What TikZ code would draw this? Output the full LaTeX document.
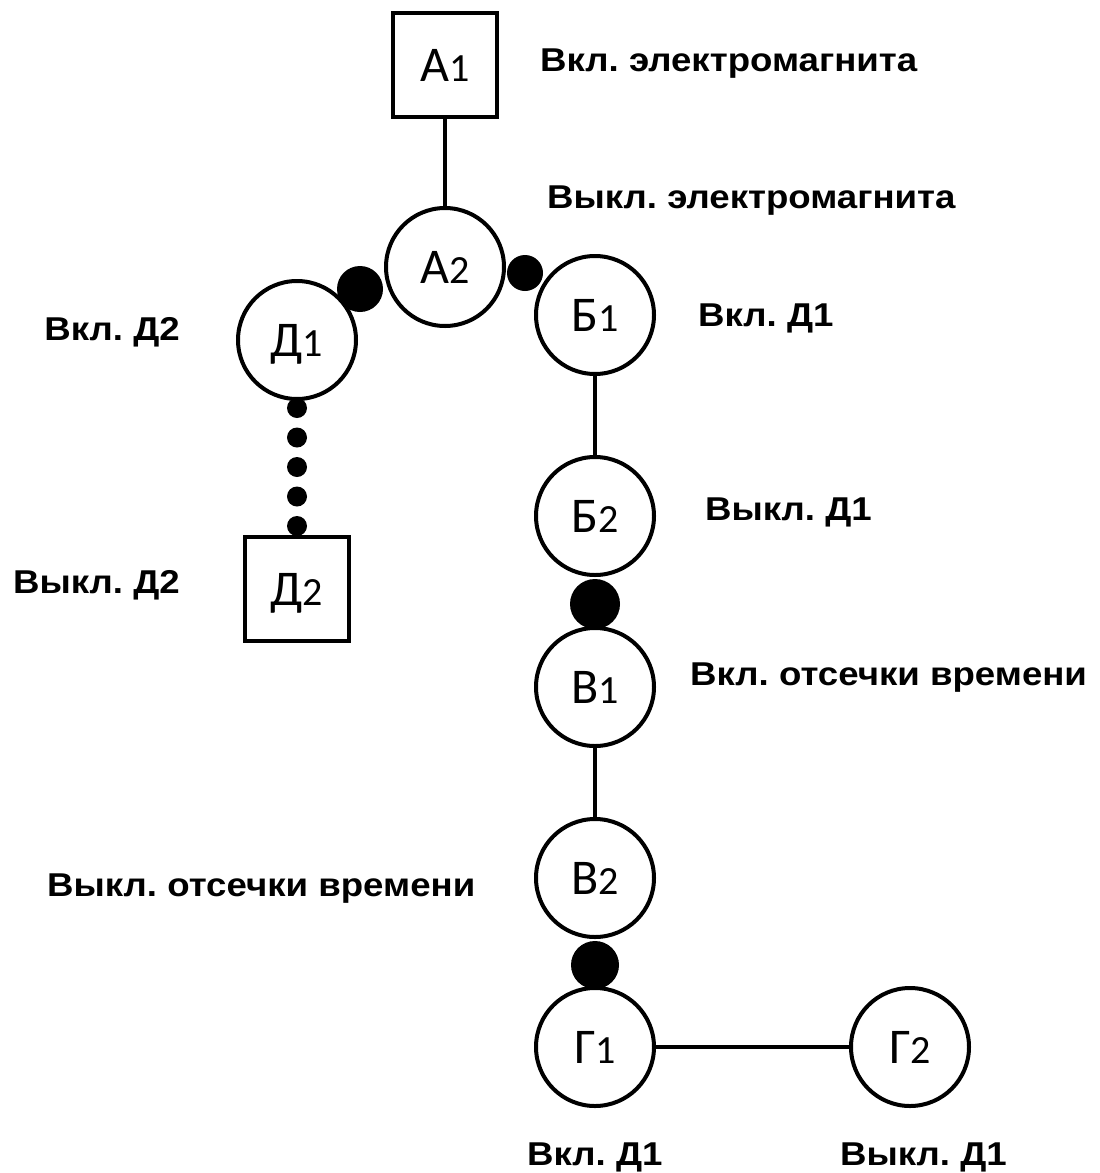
\documentclass[tikz,border=0pt]{standalone}
\usepackage{fontspec}
\setmainfont{Liberation Sans}[FakeStretch=1.11]
\newfontfamily\carlfont{Carlito}
\newcommand\nlab[2]{{\carlfont\fontsize{50}{50}\selectfont #1}{\carlfont\fontsize{40}{40}\selectfont #2}}
\tikzset{
  statec/.style={circle, draw, fill=white, line width=4pt, minimum size=118pt, inner sep=0pt, text height=32pt, text depth=0pt},
  states/.style={rectangle, draw, fill=white, line width=4pt, minimum size=104pt, inner sep=0pt, text height=32pt, text depth=0pt},
  jdot/.style={circle, fill=black, inner sep=0pt},
  conn/.style={line width=4pt},
  dotconn/.style={line width=20pt, line cap=round, dash pattern=on 0pt off 29.5pt, shorten <=7pt, shorten >=7pt},
  lab/.style={font=\fontsize{33}{33}\selectfont\bfseries\frenchspacing, inner sep=0pt}
}
\begin{document}
\frenchspacing
\begin{tikzpicture}[x=1pt,y=-1pt]
\useasboundingbox (0,0) rectangle (1100,1173);
% junction dots
\node[jdot, minimum size=46pt] (j1) at (360,289) {};
\node[jdot, minimum size=36pt] (j2) at (525,273) {};
\node[jdot, minimum size=50pt] (j3) at (595,604) {};
\node[jdot, minimum size=48pt] (j4) at (595,965) {};
% states
\node[states] (a1) at (445,65) {\nlab{А}{1}};
\node[statec] (a2) at (445,267) {\nlab{А}{2}};
\node[statec] (d1) at (297,340) {\nlab{Д}{1}};
\node[states] (d2) at (297,589) {\nlab{Д}{2}};
\node[statec] (b1) at (595,315) {\nlab{Б}{1}};
\node[statec] (b2) at (595,516) {\nlab{Б}{2}};
\node[statec] (v1) at (595,687) {\nlab{В}{1}};
\node[statec] (v2) at (595,878) {\nlab{В}{2}};
\node[statec] (g1) at (595,1047) {\nlab{Г}{1}};
\node[statec] (g2) at (910,1047) {\nlab{Г}{2}};
% connectors
\draw[conn] (a1) -- (a2);
\draw[conn] (b1) -- (b2);
\draw[conn] (v1) -- (v2);
\draw[conn] (g1) -- (g2);
\draw[dotconn] (d1.south) -- (d2.north);
% labels
\node[lab, anchor=base west] (l1) at (540,71) {Вкл. электромагнита};
\node[lab, anchor=base west] (l2) at (547,208) {Выкл. электромагнита};
\node[lab, anchor=base east] (l3) at (180,340) {Вкл. Д2};
\node[lab, anchor=base east] (l4) at (180,593) {Выкл. Д2};
\node[lab, anchor=base west] (l5) at (698,326) {Вкл. Д1};
\node[lab, anchor=base west] (l6) at (705,520) {Выкл. Д1};
\node[lab, anchor=base west] (l7) at (690,685) {Вкл. отсечки времени};
\node[lab, anchor=base west] (l8) at (47,896) {Выкл. отсечки времени};
\node[lab, anchor=base west] (l9) at (527,1165) {Вкл. Д1};
\node[lab, anchor=base west] (l10) at (840,1165) {Выкл. Д1};
\end{tikzpicture}
\end{document}
